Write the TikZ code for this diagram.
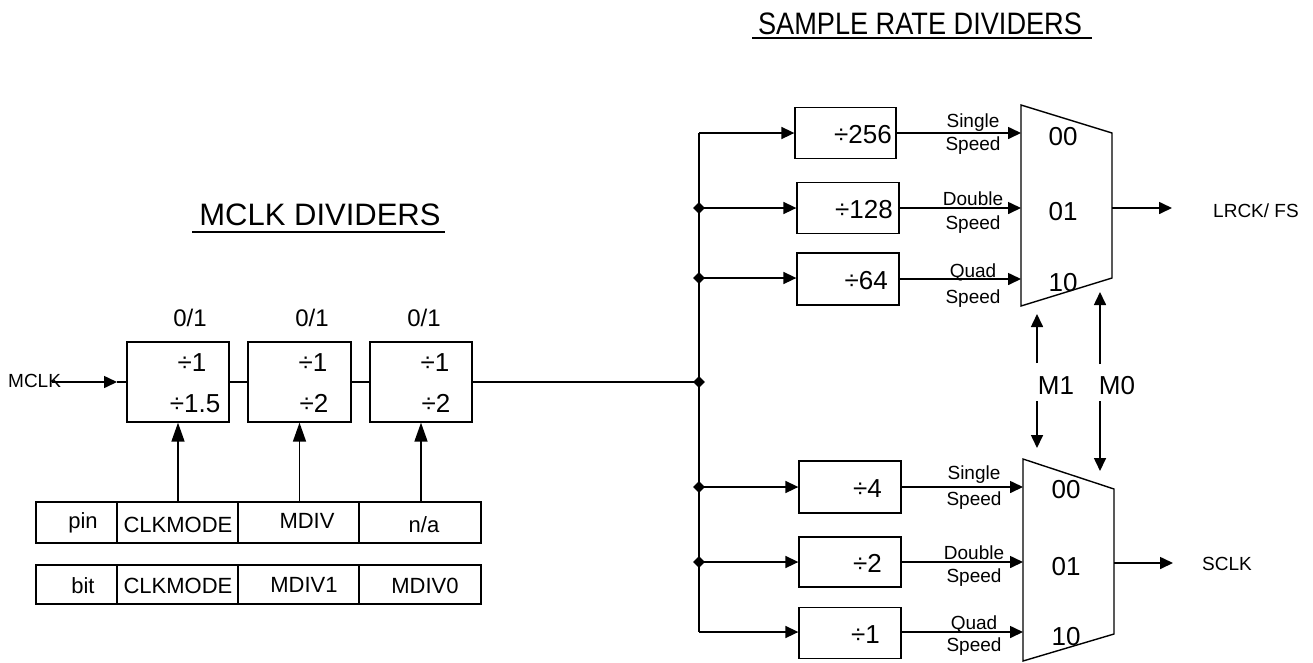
\documentclass[tikz,border=0pt]{standalone}
\usepackage{fontspec}
\setmainfont{Liberation Sans}
\usetikzlibrary{arrows.meta,shapes.geometric}
\begin{document}
\begin{tikzpicture}[x=1pt,y=-1pt,
  wire/.style={line width=1.6pt},
  arr/.style={wire,-{Triangle[length=13pt,width=12pt]}},
  uparr/.style={wire,-{Triangle[length=19pt,width=13pt]}},
  box/.style={draw,line width=1.3pt,inner sep=0,minimum width=102pt},
  lbox/.style={box,minimum height=80pt},
  rbox/.style={box,minimum width=101pt,minimum height=51pt},
  cell/.style={draw,line width=1.3pt,inner sep=0},
  dot/.style={diamond,fill,inner sep=0,minimum size=12pt},
  mux/.style={line width=1.4pt,line join=miter},
  f31/.style={font=\fontsize{31}{31}\selectfont,inner sep=0},
  f26/.style={font=\fontsize{26}{26}\selectfont,inner sep=0},
  f24/.style={font=\fontsize{24}{24}\selectfont,inner sep=0},
  f22/.style={font=\fontsize{22}{22}\selectfont,inner sep=0},
  f19/.style={font=\fontsize{19}{19}\selectfont,inner sep=0},
]
\useasboundingbox (0,0) rectangle (1313,662);

% titles
\node[f31,anchor=base] (t1) at (320,225) {MCLK DIVIDERS};
\coordinate (u1a) at (192,232); \coordinate (u1b) at (445,232);
\draw[line width=1.6pt] (u1a) -- (u1b);
\node[f31,anchor=base] (t2) at (920,34) {\scalebox{0.876}[1]{SAMPLE RATE DIVIDERS}};
\coordinate (u2a) at (752,38); \coordinate (u2b) at (1092,38);
\draw[line width=1.6pt] (u2a) -- (u2b);

% MCLK dividers
\node[lbox] (d1) at (178,382) {};
\node[lbox,minimum width=103pt] (d2) at (299.5,382) {};
\node[lbox] (d3) at (421,382) {};
\node[f24,anchor=base] (s1) at (190,326) {0/1};
\node[f24,anchor=base] (s2) at (312,326) {0/1};
\node[f24,anchor=base] (s3) at (424,326) {0/1};
\node[f26,anchor=base] (d1a) at (192,371) {÷1};
\node[f26,anchor=base] (d1b) at (195,412) {÷1.5};
\node[f26,anchor=base] (d2a) at (313,371) {÷1};
\node[f26,anchor=base] (d2b) at (314,412) {÷2};
\node[f26,anchor=base] (d3a) at (435,371) {÷1};
\node[f26,anchor=base] (d3b) at (436,412) {÷2};

\node[f19,anchor=base west] (mclk) at (8,387) {MCLK};
\coordinate (mclkA) at (52,382);
\coordinate (mclkB) at (117,382);
\draw[arr] (mclkA) -- (mclkB);
\draw[wire] (mclkB) -- (d1.west);
\draw[wire] (d1.east) -- (d2.west);
\draw[wire] (d2.east) -- (d3.west);

% table
\node[cell,minimum width=81pt,minimum height=41pt] (p0) at (76.5,522.5) {};
\node[cell,minimum width=121pt,minimum height=41pt] (p1) at (177.5,522.5) {};
\node[cell,minimum width=121pt,minimum height=41pt] (p2) at (298.5,522.5) {};
\node[cell,minimum width=122pt,minimum height=41pt] (p3) at (420,522.5) {};
\node[cell,minimum width=81pt,minimum height=39pt] (q0) at (76.5,584.5) {};
\node[cell,minimum width=121pt,minimum height=39pt] (q1) at (177.5,584.5) {};
\node[cell,minimum width=121pt,minimum height=39pt] (q2) at (298.5,584.5) {};
\node[cell,minimum width=122pt,minimum height=39pt] (q3) at (420,584.5) {};
\node[f22,anchor=base] at (83,528) {pin};
\node[f22,anchor=base] at (178,532) {CLKMODE};
\node[f22,anchor=base] at (307,528) {MDIV};
\node[f22,anchor=base] at (424,532) {n/a};
\node[f22,anchor=base] at (83,593) {bit};
\node[f22,anchor=base] at (178,593) {CLKMODE};
\node[f22,anchor=base] at (304,592) {MDIV1};
\node[f22,anchor=base] at (425,593) {MDIV0};
\draw[uparr] (p1.north -| d1.south) -- (d1.south);
\draw[uparr] (p2.north -| d2.south) -- (d2.south);
\draw[uparr] (p3.north -| d3.south) -- (d3.south);

% bus
\coordinate (bTop) at (699,133);
\coordinate (bBot) at (699,632);
\node[dot] (j1) at (699,208) {};
\node[dot] (j2) at (699,278) {};
\node[dot] (j3) at (699,382) {};
\node[dot] (j4) at (699,487) {};
\node[dot] (j5) at (699,562) {};
\draw[wire] (bTop) -- (bBot);
\draw[wire] (d3.east) -- (j3.center);

% sample rate boxes
\node[rbox] (r1) at (845.5,133) {};
\node[rbox,minimum width=102pt] (r2) at (848,208) {};
\node[rbox,minimum width=102pt,minimum height=52pt] (r3) at (848,279) {};
\node[rbox,minimum width=102pt,minimum height=52pt] (r4) at (850,487) {};
\node[rbox,minimum width=102pt,minimum height=50pt] (r5) at (850,562) {};
\node[rbox,minimum width=102pt] (r6) at (850,633) {};
\node[f26,anchor=base east] at (892,143) {÷256};
\node[f26,anchor=base east] at (893,218) {÷128};
\node[f26,anchor=base east] at (888,289) {÷64};
\node[f26,anchor=base east] at (882,497) {÷4};
\node[f26,anchor=base east] at (882,572) {÷2};
\node[f26,anchor=base east] at (880,643) {÷1};

\draw[arr] (bTop) -- (bTop -| r1.west);
\draw[arr] (j1.center) -- (j1.center -| r2.west);
\draw[arr] (j2.center) -- (j2.center -| r3.west);
\draw[arr] (j4.center) -- (j4.center -| r4.west);
\draw[arr] (j5.center) -- (j5.center -| r5.west);
\draw[arr] (bBot) -- (bBot -| r6.west);

% muxes
\coordinate (mA1) at (1021,105); \coordinate (mA2) at (1112,133);
\coordinate (mA3) at (1112,278); \coordinate (mA4) at (1021,306);
\draw[mux] (mA1) -- (mA2) -- (mA3) -- (mA4) -- cycle;
\coordinate (mB1) at (1023,459); \coordinate (mB2) at (1114,489);
\coordinate (mB3) at (1114,634); \coordinate (mB4) at (1023,661);
\draw[mux] (mB1) -- (mB2) -- (mB3) -- (mB4) -- cycle;

\coordinate (iA1) at (1021,133); \coordinate (iA2) at (1021,208); \coordinate (iA3) at (1021,279);
\coordinate (iB1) at (1023,487); \coordinate (iB2) at (1023,562); \coordinate (iB3) at (1023,632);
\draw[arr] (r1.east |- iA1) -- (iA1);
\draw[arr] (r2.east |- iA2) -- (iA2);
\draw[arr] (r3.east |- iA3) -- (iA3);
\draw[arr] (r4.east |- iB1) -- (iB1);
\draw[arr] (r5.east |- iB2) -- (iB2);
\draw[arr] (r6.east |- iB3) -- (iB3);

\node[f26,anchor=base] at (1063,145) {00};
\node[f26,anchor=base] at (1063,220) {01};
\node[f26,anchor=base] at (1063,291) {10};
\node[f26,anchor=base] at (1066,498) {00};
\node[f26,anchor=base] at (1066,575) {01};
\node[f26,anchor=base] at (1066,645) {10};

% speed labels
\node[f19,anchor=base] at (973,127) {Single};
\node[f19,anchor=base] at (973,150) {Speed};
\node[f19,anchor=base] at (973,205) {Double};
\node[f19,anchor=base] at (973,229) {Speed};
\node[f19,anchor=base] at (973,277) {Quad};
\node[f19,anchor=base] at (973,303) {Speed};
\node[f19,anchor=base] at (974,479) {Single};
\node[f19,anchor=base] at (974,505) {Speed};
\node[f19,anchor=base] at (974,559) {Double};
\node[f19,anchor=base] at (974,582) {Speed};
\node[f19,anchor=base] at (974,629) {Quad};
\node[f19,anchor=base] at (974,651) {Speed};

% outputs
\node[f19,anchor=base west] (lrck) at (1213,217) {LRCK/ FS};
\node[f19,anchor=base west] (sclk) at (1202,570) {SCLK};
\coordinate (oA) at (1112,208); \coordinate (oAe) at (1172,208);
\coordinate (oB) at (1114,563); \coordinate (oBe) at (1173,563);
\draw[arr] (oA) -- (oAe);
\draw[arr] (oB) -- (oBe);

% select lines
\node[f26,anchor=base] (m1) at (1056,394) {M1};
\node[f26,anchor=base] (m0) at (1117,394) {M0};
\coordinate (m1u) at (1037,363); \coordinate (m1ut) at (1037,314);
\coordinate (m1d) at (1037,401); \coordinate (m1dt) at (1037,448);
\coordinate (m0u) at (1100,364); \coordinate (m0ut) at (1100,292);
\coordinate (m0d) at (1100,401); \coordinate (m0dt) at (1100,471);
\draw[arr] (m1u) -- (m1ut);
\draw[arr] (m1d) -- (m1dt);
\draw[arr] (m0u) -- (m0ut);
\draw[arr] (m0d) -- (m0dt);
\end{tikzpicture}
\end{document}
